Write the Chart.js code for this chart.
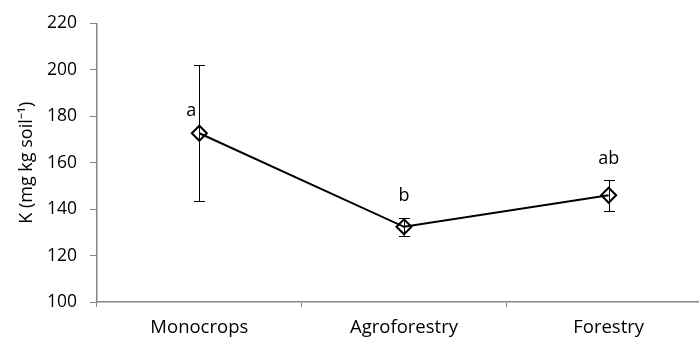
<!DOCTYPE html>
<html>
<head>
<meta charset="utf-8">
<script src="https://cdn.jsdelivr.net/npm/chart.js@4/dist/chart.umd.min.js"></script>
<style>
  html, body { margin: 0; padding: 0; background: #fff; overflow: hidden; }
  #c { display: block; }
</style>
</head>
<body>
<canvas id="c" width="712" height="340"></canvas>
<script>
// Soil potassium by land use: means, error bar limits and significance letters
const categories = ['Monocrops', 'Agroforestry', 'Forestry'];
const meanK      = [172.7, 132.4, 146.0];
const errLow     = [143.4, 128.3, 139.1];
const errHigh    = [202.2, 136.3, 152.6];
const letters    = ['a', 'b', 'ab'];
const yTicks     = [100, 120, 140, 160, 180, 200, 220];

const axisGray = '#868686';
const FONT = 'Open Sans';

// Vertical error bars with caps, from the errLow/errHigh arrays
const errorBars = {
  id: 'errorBars',
  afterDatasetsDraw(chart) {
    const { ctx, scales: { x, y } } = chart;
    ctx.save();
    ctx.strokeStyle = '#000';
    ctx.lineWidth = 1;
    const cap = 5.5;
    categories.forEach((c, i) => {
      const px = Math.round(x.getPixelForValue(i)) + 0.5;
      const yTop = Math.round(y.getPixelForValue(errHigh[i])) + 0.5;
      const yBot = Math.round(y.getPixelForValue(errLow[i])) + 0.5;
      ctx.beginPath();
      ctx.moveTo(px, yTop); ctx.lineTo(px, yBot);
      ctx.moveTo(px - cap, yTop); ctx.lineTo(px + cap, yTop);
      ctx.moveTo(px - cap, yBot); ctx.lineTo(px + cap, yBot);
      ctx.stroke();
    });
    ctx.restore();
  }
};

// Significance letters set above each point
const letterLabels = {
  id: 'letterLabels',
  afterDatasetsDraw(chart, args, opts) {
    const { ctx, scales: { x, y } } = chart;
    ctx.save();
    ctx.fillStyle = '#000';
    ctx.font = `${opts.size}px "${FONT}"`;
    ctx.textAlign = 'center';
    ctx.textBaseline = 'middle';
    letters.forEach((t, i) => {
      const o = opts.offsets[i];
      ctx.fillText(t, x.getPixelForValue(i) + o.dx, y.getPixelForValue(meanK[i]) + o.dy);
    });
    ctx.restore();
  }
};

new Chart(document.getElementById('c'), {
  type: 'line',
  data: {
    labels: categories,
    datasets: [{
      data: meanK,
      borderColor: '#000',
      borderWidth: 2,
      tension: 0,
      pointStyle: 'rectRot',
      pointRadius: 7.5,
      pointBorderWidth: 2,
      pointBorderColor: '#000',
      pointBackgroundColor: 'rgba(0,0,0,0)'
    }]
  },
  options: {
    responsive: false,
    animation: false,
    devicePixelRatio: 1,
    layout: { autoPadding: false, padding: { top: 22, right: 1, left: 0, bottom: 0 } },
    plugins: {
      legend: { display: false },
      tooltip: { enabled: false },
      letterLabels: {
        size: 18,
        offsets: [{ dx: -8, dy: -22 }, { dx: 0, dy: -31 }, { dx: 0, dy: -36 }]
      }
    },
    scales: {
      x: {
        offset: true,
        grid: {
          offset: true,
          drawOnChartArea: false,
          drawTicks: true,
          tickLength: 5,
          color: axisGray
        },
        border: { color: axisGray, width: 1.5 },
        ticks: { color: '#000', font: { family: FONT, size: 18.5 }, padding: 10, maxRotation: 0 },
        afterFit(s) { s.height = 38; }
      },
      y: {
        min: 100,
        max: 220,
        afterBuildTicks(s) { s.ticks = yTicks.map(v => ({ value: v })); },
        grid: {
          drawOnChartArea: false,
          drawTicks: true,
          tickLength: 7,
          color: axisGray
        },
        border: { color: axisGray, width: 1.5 },
        ticks: { color: '#000', font: { family: FONT, size: 17.5 }, padding: 13 },
        title: {
          display: true,
          text: 'K (mg kg soil⁻¹)',
          color: '#000',
          font: { family: FONT, size: 18 },
          padding: { top: 16, bottom: 0 }
        },
        afterFit(s) { s.width = 97; }
      }
    }
  },
  plugins: [errorBars, letterLabels]
});
</script>
</body>
</html>
